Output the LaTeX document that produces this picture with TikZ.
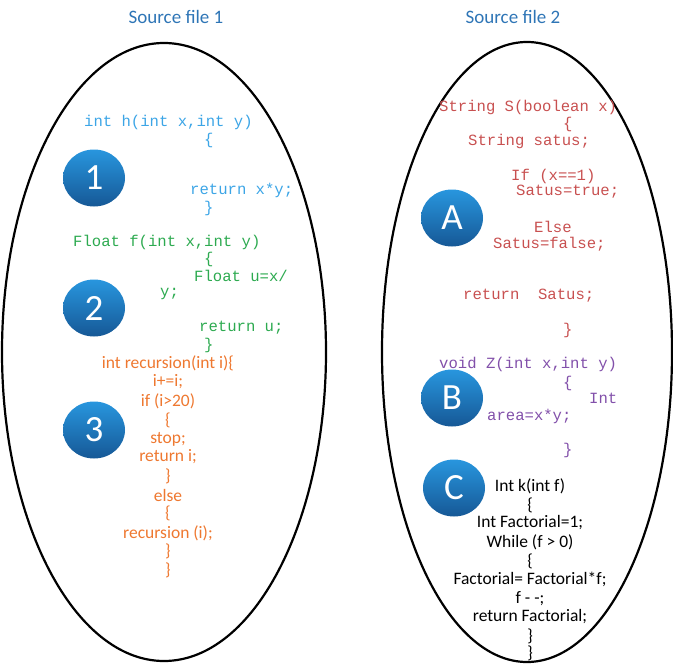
\documentclass[tikz,border=0pt]{standalone}
\usepackage{fontspec}
\setmainfont{Carlito}
\newfontfamily\codefont{Liberation Mono}
\definecolor{titleblue}{RGB}{46,117,182}
\definecolor{codeblue}{RGB}{60,165,230}
\definecolor{codegreen}{RGB}{45,170,80}
\definecolor{codeorange}{RGB}{238,120,48}
\definecolor{codered}{RGB}{200,80,80}
\definecolor{codepurple}{RGB}{130,80,170}
\definecolor{ctop}{RGB}{40,150,222}
\definecolor{cbot}{RGB}{22,88,150}
\tikzset{
  title/.style={text=titleblue, font=\fontsize{19}{19}\selectfont, inner sep=0},
  cw/.style={anchor=west, inner sep=0, font=\codefont\fontsize{15.6}{15.6}\selectfont},
  cc/.style={inner sep=0, font=\fontsize{17.5}{17.5}\selectfont},
  badge/.style={ellipse, minimum width=62, minimum height=57, inner sep=0,
     top color=ctop, bottom color=cbot, text=white, font=\fontsize{37}{37}\selectfont},
  shell/.style={draw=black, line width=2.2pt}
}
\usetikzlibrary{shapes.geometric}
\begin{document}
\begin{tikzpicture}[x=1pt,y=-1pt]
\useasboundingbox (0,0) rectangle (673,664);
\node[title] (t1) at (176,17) {Source file 1};
\node[title] (t2) at (513,17) {Source file 2};
\draw[shell] (164,352) ellipse [x radius=162, y radius=309];
\draw[shell] (527,352) ellipse [x radius=145, y radius=310];
% badges
\node[badge] (b1) at (94,178) {1};
\node[badge] (b2) at (94,308) {2};
\node[badge] (b3) at (94,430) {3};
\node[badge] (bA) at (452,218) {A};
\node[badge] (bB) at (452,398) {B};
\node[badge] (bC) at (454,488) {C};
% left code: blue
\begin{scope}[every node/.append style={text=codeblue}]
\node[cw] (h1) at (84,122) {int h(int x,int y)};
\node[cw] (h2) at (204,140) {\{};
\node[cw] (h3) at (190,190) {return x*y;};
\node[cw] (h4) at (204,208) {\}};
\end{scope}
\begin{scope}[every node/.append style={text=codegreen}]
\node[cw] (f1) at (73,242) {Float f(int x,int y)};
\node[cw] (f2) at (204,259) {\{};
\node[cw] (f3) at (194,276) {Float u=x/};
\node[cw] (f4) at (160,294) {y;};
\node[cw] (f5) at (199,328) {return u;};
\node[cw] (f6) at (204,345) {\}};
\end{scope}
\begin{scope}[every node/.append style={text=codeorange}]
\node[cc] (r1) at (168,363) {int recursion(int i)\{};
\node[cc] (r2) at (168,382) {i+=i;};
\node[cc] (r3) at (168,401) {if (i>20)};
\node[cc] (r4) at (168,420) {\{};
\node[cc] (r5) at (168,439) {stop;};
\node[cc] (r6) at (168,457) {return i;};
\node[cc] (r7) at (168,476) {\}};
\node[cc] (r8) at (168,495) {else};
\node[cc] (r9) at (168,513) {\{};
\node[cc] (r10) at (168,533) {recursion (i);};
\node[cc] (r11) at (168,551) {\}};
\node[cc] (r12) at (168,570) {\}};
\end{scope}
% right code: red
\begin{scope}[every node/.append style={text=codered}]
\node[cw] (s1) at (439,107) {String S(boolean x)};
\node[cw] (s2) at (563,124) {\{};
\node[cw] (s3) at (468,141) {String satus;};
\node[cw] (s4) at (511,176) {If (x==1)};
\node[cw] (s5) at (516,192) {Satus=true;};
\node[cw] (s6) at (534,227) {Else};
\node[cw] (s7) at (493,244) {Satus=false;};
\node[cw] (s8) at (463,296) {return\ \ Satus;};
\node[cw] (s9) at (563,330) {\}};
\end{scope}
\begin{scope}[every node/.append style={text=codepurple}]
\node[cw] (z1) at (439,364) {void Z(int x,int y)};
\node[cw] (z2) at (563,383) {\{};
\node[cw] (z3) at (589,398) {Int};
\node[cw] (z4) at (487,416) {area=x*y;};
\node[cw] (z5) at (563,450) {\}};
\end{scope}
\begin{scope}[every node/.append style={text=black}]
\node[cc] (k1) at (530,486) {Int k(int f)};
\node[cc] (k2) at (530,505) {\{};
\node[cc] (k3) at (530,523) {Int Factorial=1;};
\node[cc] (k4) at (530,542) {While (f > 0)};
\node[cc] (k5) at (530,561) {\{};
\node[cc] (k6) at (530,579) {Factorial= Factorial*f;};
\node[cc] (k7) at (530,599) {f - -;};
\node[cc] (k8) at (530,617) {return Factorial;};
\node[cc] (k9) at (530,636) {\}};
\node[cc] (k10) at (530,653) {\}};
\end{scope}
\end{tikzpicture}
\end{document}
